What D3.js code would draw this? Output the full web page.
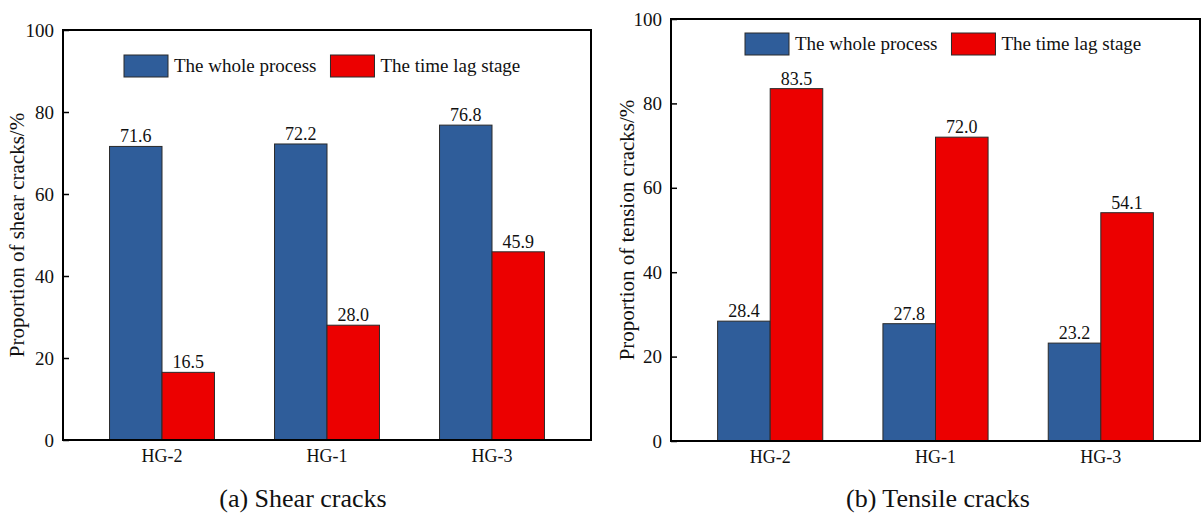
<!DOCTYPE html>
<html>
<head>
<meta charset="utf-8">
<script src="https://cdn.jsdelivr.net/npm/d3@7"></script>
<style>
  html, body { margin: 0; padding: 0; background: #ffffff; }
  svg { display: block; }
  text { font-family: "Liberation Serif", "Times New Roman", serif; fill: #111; }
</style>
</head>
<body>
<svg id="chart" width="1204" height="515"></svg>
<script>
// ---------- data ----------
const categories = ["HG-2", "HG-1", "HG-3"];
const seriesNames = ["The whole process", "The time lag stage"];
const shearWhole = [71.6, 72.2, 76.8];
const shearLag = [16.5, 28.0, 45.9];
const tensileWhole = [28.4, 27.8, 23.2];
const tensileLag = [83.5, 72.0, 54.1];
const yTicks = [0, 20, 40, 60, 80, 100];
const yTitles = ["Proportion of shear cracks/%", "Proportion of tension cracks/%"];
const captions = ["(a) Shear cracks", "(b) Tensile cracks"];

// ---------- styling / layout ----------
const colors = ["#2F5D9A", "#EC0000"];
const panels = [
  { left: 63, right: 591, top: 30, bottom: 440, whole: shearWhole, lag: shearLag,
    title: yTitles[0], caption: captions[0], capX: 303, legX: 124, legY: 55, titleX: 17 },
  { left: 671, right: 1200, top: 19, bottom: 441, whole: tensileWhole, lag: tensileLag,
    title: yTitles[1], caption: captions[1], capX: 938, legX: 745, legY: 33, titleX: 627 }
];

const svg = d3.select("#chart");

panels.forEach(p => {
  const g = svg.append("g");
  const x = d3.scaleBand().domain(categories).range([p.left, p.right])
    .paddingInner(0.364).paddingOuter(0.282);
  const xs = d3.scaleBand().domain(seriesNames).range([0, x.bandwidth()]).padding(0);
  const y = d3.scaleLinear().domain([0, 100]).range([p.bottom, p.top]);

  const rows = categories.map((c, i) => ({ cat: c, vals: [p.whole[i], p.lag[i]] }));

  // bars
  rows.forEach(r => {
    r.vals.forEach((v, si) => {
      const bx = x(r.cat) + xs(seriesNames[si]);
      g.append("rect")
        .attr("x", bx).attr("y", y(v))
        .attr("width", xs.bandwidth()).attr("height", y(0) - y(v))
        .attr("fill", colors[si]).attr("stroke", "#2a2a2a").attr("stroke-width", 1);
      g.append("text")
        .attr("x", bx + xs.bandwidth() / 2).attr("y", y(v) - 4)
        .attr("text-anchor", "middle").attr("font-size", 18)
        .text(v.toFixed(1));
    });
  });

  // frame
  g.append("rect")
    .attr("x", p.left).attr("y", p.top)
    .attr("width", p.right - p.left).attr("height", p.bottom - p.top)
    .attr("fill", "none").attr("stroke", "#000").attr("stroke-width", 2);

  // y axis
  const ya = g.append("g").attr("transform", `translate(${p.left},0)`)
    .call(d3.axisLeft(y).tickValues(yTicks).tickSizeInner(-6).tickSizeOuter(0).tickPadding(9));
  ya.select(".domain").remove();
  ya.selectAll(".tick line").attr("stroke", "#000").attr("stroke-width", 1.5);
  ya.selectAll(".tick text").attr("font-size", 19)
    .attr("font-family", "Liberation Serif, Times New Roman, serif").attr("fill", "#111");

  // x axis
  const xa = g.append("g").attr("transform", `translate(0,${p.bottom})`)
    .call(d3.axisBottom(x).tickSize(0).tickPadding(9));
  xa.select(".domain").remove();
  xa.selectAll(".tick text").attr("font-size", 18)
    .attr("font-family", "Liberation Serif, Times New Roman, serif").attr("fill", "#111");

  // y title
  g.append("text")
    .attr("transform", `translate(${p.titleX},${(p.top + p.bottom) / 2}) rotate(-90)`)
    .attr("text-anchor", "middle").attr("dy", "0.35em").attr("font-size", 21)
    .text(p.title);

  // caption
  g.append("text")
    .attr("x", p.capX).attr("y", 507)
    .attr("text-anchor", "middle").attr("font-size", 26)
    .text(p.caption);

  // legend
  let lx = p.legX;
  seriesNames.forEach((s, si) => {
    g.append("rect")
      .attr("x", lx).attr("y", p.legY).attr("width", 44).attr("height", 22)
      .attr("fill", colors[si]).attr("stroke", "#2a2a2a").attr("stroke-width", 1);
    const t = g.append("text")
      .attr("x", lx + 50).attr("y", p.legY + 17)
      .attr("font-size", 19).text(s);
    lx = lx + 50 + t.node().getComputedTextLength() + 14;
  });
});
</script>
</body>
</html>
